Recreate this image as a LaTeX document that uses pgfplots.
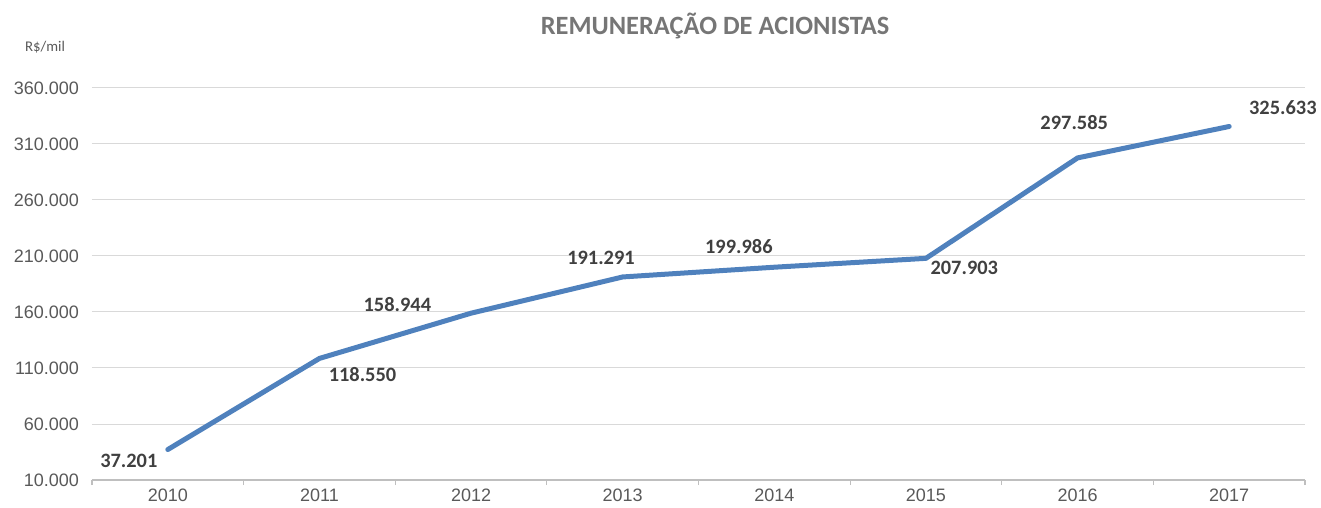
\documentclass[border=0pt]{standalone}
\usepackage{fontspec}
\setmainfont{Liberation Sans}
\newfontfamily\carlito{Carlito}
\usepackage{pgfplots}
\pgfplotsset{compat=1.18}
\definecolor{lineBlue}{RGB}{79,129,189}
\definecolor{gridGray}{RGB}{217,217,217}
\definecolor{axisGray}{RGB}{191,191,191}
\definecolor{tickText}{RGB}{89,89,89}
\definecolor{labelText}{RGB}{64,64,64}
\definecolor{titleGray}{RGB}{118,118,118}

\begin{document}
\begin{tikzpicture}
  \begin{axis}[
      scale only axis,
      width=606.5pt, height=196pt,
      xmin=-0.5, xmax=7.5,
      ymin=10000, ymax=360000,
      axis x line*=bottom, axis y line*=left,
      x axis line style={draw=axisGray, line width=0.6pt},
      y axis line style={draw=none},
      xtick={0,...,7},
      xticklabels={2010,2011,2012,2013,2014,2015,2016,2017},
      minor xtick={-0.5,0.5,...,7.5},
      tick align=outside,
      major tick length=0pt,
      minor tick length=2.5pt,
      minor x tick style={draw=axisGray, line width=0.6pt},
      ytick={10000,60000,...,360000},
      yticklabels={10.000,60.000,110.000,160.000,210.000,260.000,310.000,360.000},
      scaled y ticks=false,
      ymajorgrids,
      major grid style={draw=gridGray, line width=0.5pt},
      ytick style={draw=none},
      xtick style={draw=none},
      tick label style={font=\fontsize{9}{10}\selectfont, text=tickText},
      yticklabel style={xshift=-3pt},
      xticklabel style={yshift=-1pt},
      clip=false,
    ]
    \addplot[lineBlue, line width=2.5pt, line join=round, line cap=round]
      coordinates {(0,37201) (1,118550) (2,158944) (3,191291)
                   (4,199986) (5,207903) (6,297585) (7,325633)};

    \begin{scope}[every node/.style={font=\carlito\bfseries\fontsize{10.2}{11}\selectfont, text=labelText}]
      \node at (axis cs:-0.257,26964)  {37.201};
      \node at (axis cs:1.284,103750)  {118.550};
      \node at (axis cs:1.514,166250)  {158.944};
      \node at (axis cs:2.857,208214)  {191.291};
      \node at (axis cs:3.766,218036)  {199.986};
      \node at (axis cs:5.253,199286)  {207.903};
      \node at (axis cs:5.978,328750)  {297.585};
      \node at (axis cs:7.354,342143)  {325.633};
    \end{scope}
  \end{axis}
  \node[anchor=base, font=\carlito\bfseries\fontsize{13.2}{15}\selectfont, text=titleGray]
    at (311.5pt,222.5pt) {REMUNERAÇÃO DE ACIONISTAS};
  \node[font=\carlito\fontsize{7.4}{8}\selectfont, text=tickText]
    at (-23.5pt,216.5pt) {R\$/mil};
  \pgfresetboundingbox
  \path (-46pt,-14pt) rectangle (614.5pt,240pt);
\end{tikzpicture}
\end{document}
